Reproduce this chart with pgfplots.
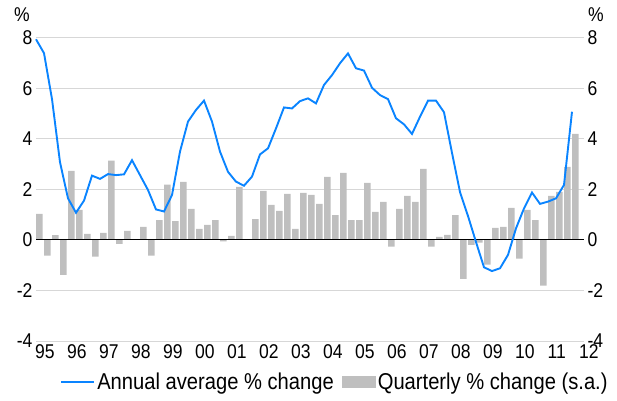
\documentclass[border=0pt]{standalone}
\usepackage{fontspec}
\setmainfont{Liberation Sans}[FakeStretch=0.88]
\usepackage{pgfplots}
\pgfplotsset{compat=1.18}
\usepackage{pgfplotstable}
\definecolor{linec}{RGB}{10,132,255}
\definecolor{barc}{RGB}{191,191,191}
\definecolor{gridc}{RGB}{215,215,215}

\pgfplotstableread{
i q a
0 1.03 7.95
1 -0.62 7.40
2 0.19 5.58
3 -1.38 3.08
4 2.74 1.65
5 1.19 1.08
6 0.24 1.56
7 -0.66 2.55
8 0.28 2.42
9 3.14 2.61
10 -0.15 2.57
11 0.36 2.60
12 0.02 3.16
13 0.52 2.57
14 -0.62 1.98
15 0.79 1.21
16 2.19 1.13
17 0.75 1.78
18 2.30 3.50
19 1.23 4.69
20 0.44 5.15
21 0.60 5.52
22 0.79 4.69
23 -0.05 3.50
24 0.16 2.70
25 2.10 2.31
26 0.00 2.15
27 0.83 2.51
28 1.95 3.39
29 1.39 3.63
30 1.15 4.42
31 1.83 5.25
32 0.44 5.21
33 1.87 5.50
34 1.79 5.61
35 1.43 5.41
36 2.50 6.14
37 0.99 6.53
38 2.66 7.00
39 0.79 7.39
40 0.79 6.80
41 2.26 6.71
42 1.11 6.03
43 1.51 5.74
44 -0.26 5.58
45 1.23 4.82
46 1.75 4.58
47 1.51 4.20
48 2.82 4.88
49 -0.26 5.52
50 0.12 5.52
51 0.20 5.06
52 0.99 3.45
53 -1.54 1.90
54 -0.19 0.95
55 -0.10 -0.08
56 -0.98 -1.08
57 0.48 -1.23
58 0.52 -1.12
59 1.27 -0.59
60 -0.74 0.46
61 1.19 1.25
62 0.79 1.88
63 -1.81 1.43
64 1.75 1.52
65 1.91 1.65
66 2.90 2.18
67 4.20 5.08
}\data

\begin{document}
\begin{tikzpicture}
\useasboundingbox (0,0) rectangle (617bp,401bp);
% main axis
\begin{axis}[
  at={(36bp,60bp)}, anchor=south west,
  scale only axis, width=548bp, height=303bp,
  xmin=0, xmax=68.5, ymin=-4, ymax=8,
  ytick={-4,-2,...,8},
  xtick=\empty,
  axis line style={draw=none},
  major tick length=0pt,
  ymajorgrids, grid style={gridc, line width=1bp},
  /pgf/number format/assume math mode=true,
  yticklabel style={font=\fontsize{20}{20}\selectfont, xshift=0bp},
  clip=false,
  legend columns=2,
  legend style={draw=none, fill=none, at={(0.5456,-0.1353)}, anchor=center,
    font=\fontsize{23}{23}\selectfont,
    /tikz/every even column/.append style={column sep=6bp},
    inner sep=0pt},
]
\addlegendimage{legend image code/.code={\draw[linec, line width=1.9bp] (0bp,0bp) -- (33bp,0bp);}}
\addlegendentry{Annual average \% change}
\addplot[ybar, bar width=6.7bp, bar shift=0pt, fill=barc, draw=none,
  legend image code/.code={\fill[barc] (0bp,-6bp) rectangle (34bp,6bp);}]
  table[x expr=\thisrow{i}+0.42, y=q] {\data};
\addlegendentry{Quarterly \% change (s.a.)}
\draw[black, line width=1bp] (axis cs:0,0) -- (axis cs:68.5,0);
\addplot[linec, line width=1.9bp, forget plot] table[x=i, y=a] {\data};
\node[font=\fontsize{20}{20}\selectfont] at ([xshift=-14bp,yshift=23bp]rel axis cs:0,1) {\%};
\node[font=\fontsize{20}{20}\selectfont] at ([xshift=12bp,yshift=23bp]rel axis cs:1,1) {\%};
\end{axis}
% right tick labels
\begin{axis}[
  at={(36bp,60bp)}, anchor=south west,
  scale only axis, width=548bp, height=303bp,
  xmin=0, xmax=68.5, ymin=-4, ymax=8,
  ytick={-4,-2,...,8}, xtick=\empty,
  yticklabel pos=right,
  axis line style={draw=none},
  major tick length=0pt,
  /pgf/number format/assume math mode=true,
  yticklabel style={font=\fontsize{20}{20}\selectfont, xshift=0bp},
]
\end{axis}
% x tick labels
\begin{axis}[
  at={(36bp,60bp)}, anchor=south west,
  scale only axis, width=560bp, height=303bp,
  xmin=0, xmax=70, ymin=-4, ymax=8,
  ytick=\empty,
  xtick={1.1,5.1,...,69.1},
  xticklabels={95,96,97,98,99,00,01,02,03,04,05,06,07,08,09,10,11,12},
  axis line style={draw=none},
  major tick length=0pt,
  xticklabel style={font=\fontsize{20}{20}\selectfont, yshift=0bp},
]
\end{axis}
\end{tikzpicture}
\end{document}
